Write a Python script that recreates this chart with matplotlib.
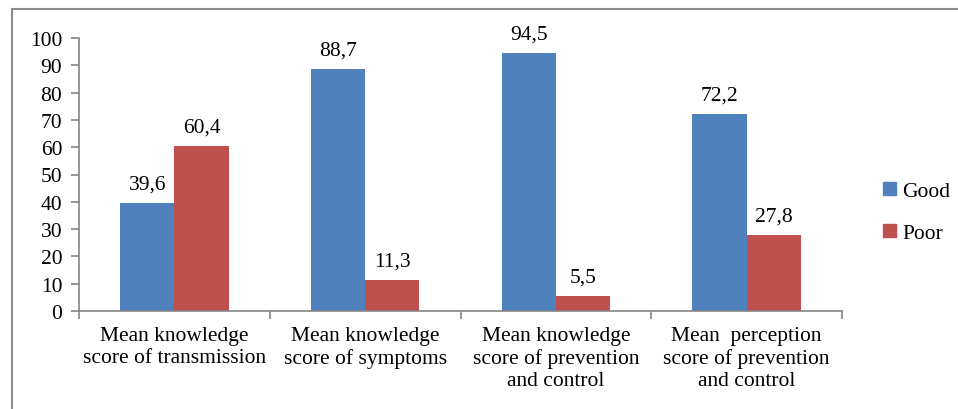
import matplotlib
matplotlib.use("Agg")
import matplotlib.pyplot as plt
import numpy as np
from matplotlib.lines import Line2D

plt.rcParams['font.family'] = ['Liberation Serif', 'DejaVu Serif']

categories = [
    "Mean knowledge\nscore of transmission",
    "Mean knowledge\nscore of symptoms",
    "Mean knowledge\nscore of prevention\nand control",
    "Mean  perception\nscore of prevention\nand control",
]
good = [39.6, 88.7, 94.5, 72.2]
poor = [60.4, 11.3, 5.5, 27.8]
series_names = ["Good", "Poor"]
colors = ["#4F81BD", "#C0504D"]
yticks = list(range(0, 101, 10))

W, H = 958, 410
fig = plt.figure(figsize=(W / 100, H / 100), dpi=100)

# axes rectangle in pixel coordinates
left, right, top, bottom = 79, 842, 39, 312
ax = fig.add_axes([left / W, 1 - bottom / H, (right - left) / W, (bottom - top) / H])

x = np.arange(len(categories))
bw = 0.285
fs = 15.5

for vals, name, col, off in zip([good, poor], series_names, colors, [-bw / 2, bw / 2]):
    ax.bar(x + off, vals, width=bw, color=col, label=name, zorder=2)
    for xi, v in zip(x + off, vals):
        ax.text(xi, v + 3.5, f"{v:.1f}".replace(".", ","), ha="center", va="bottom",
                fontsize=fs, color="black")

ax.set_xlim(-0.5, len(categories) - 0.5)
ax.set_ylim(0, 100)
ax.set_yticks(yticks)
ax.set_yticklabels([str(t) for t in yticks], fontsize=fs)

# category separators as downward ticks on the x axis
ax.set_xticks(np.arange(-0.5, len(categories), 1.0))
ax.set_xticklabels([])
ax.tick_params(axis="x", length=6, width=1.2, color="#868686", direction="out")
ax.tick_params(axis="y", length=6, width=1.2, color="#868686", direction="out", pad=6)
for i, lab in enumerate(categories):
    ax.text(i, -5.5, lab, ha="center", va="top", fontsize=fs, linespacing=1.2,
            transform=ax.transData)

for s in ["top", "right"]:
    ax.spines[s].set_visible(False)
for s in ["left", "bottom"]:
    ax.spines[s].set_color("#868686")
    ax.spines[s].set_linewidth(1.2)

handles = [plt.Rectangle((0, 0), 1, 1, color=c) for c in colors]
fig.legend(handles, series_names, loc="upper left",
           bbox_to_anchor=(874 / W, 1 - 174 / H), frameon=False, fontsize=fs,
           handlelength=0.6, handleheight=0.6, handletextpad=0.3, labelspacing=1.05,
           borderaxespad=0)

# outer frame: top and left edges
fig.add_artist(Line2D([12 / W, 1], [1 - 9.5 / H, 1 - 9.5 / H], color="#8c8c8c", lw=1.5,
                      transform=fig.transFigure))
fig.add_artist(Line2D([12 / W, 12 / W], [0, 1 - 9.5 / H], color="#8c8c8c", lw=1.5,
                      transform=fig.transFigure))

fig.savefig("out.png", dpi=100)
